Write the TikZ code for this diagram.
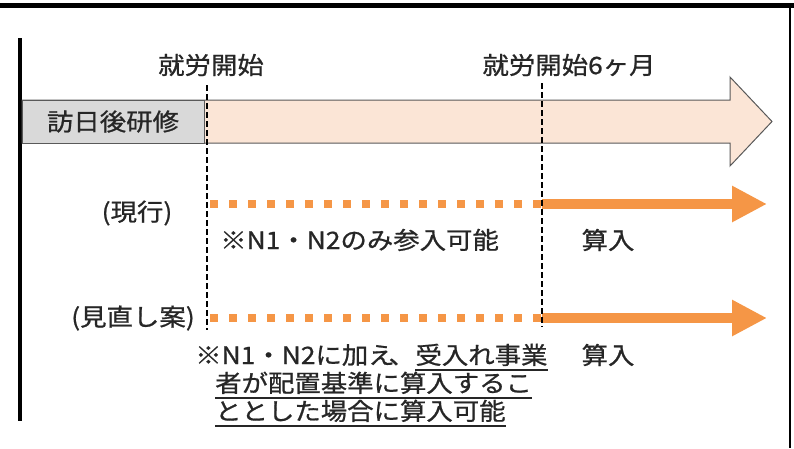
\documentclass[tikz,border=0pt]{standalone}
\usepackage{fontspec}
\setmainfont{Noto Sans CJK JP}[FakeStretch=1.1, FakeBold=0.8]
\usetikzlibrary{arrows.meta}

\definecolor{peach}{RGB}{251,229,214}
\definecolor{boxgray}{RGB}{217,217,217}
\definecolor{orangeline}{RGB}{245,150,70}
\definecolor{inkgray}{RGB}{38,38,38}

\tikzset{
  jtext/.style={font=\fontsize{24}{28}\selectfont, text=inkgray, inner sep=0pt},
  timemark/.style={line width=2.5pt, dash pattern=on 6pt off 3pt},
  planned/.style={orangeline, line width=8pt, dash pattern=on 8pt off 11pt},
  counted/.style={orangeline, line width=10pt, -{Triangle[length=35pt,width=34pt]}},
  bigarrow/.style={draw=black!65, line width=1pt, fill=peach},
  trainbox/.style={draw=black!65, line width=1pt, fill=boxgray, minimum width=182pt, minimum height=43pt, inner sep=0pt},
  underline/.style={draw=inkgray, line width=1.3pt}
}

\begin{document}
\begin{tikzpicture}[x=1pt, y=-1pt]
    \useasboundingbox (0,0) rectangle (794,448);

    \draw[line width=5pt] (0,5) -- (794,5);
    \draw[line width=2.5pt] (790,5) -- (790,448);
    \draw[line width=4pt] (20,38) -- (20,421);

    \draw[bigarrow] (22,100) -- (730,100) -- (730,77) -- (772,121.5) -- (730,166) -- (730,143) -- (22,143) -- cycle;
    \node[trainbox, jtext] (train) at (113,121.5) {訪日後研修};

    \node[jtext] (start) at (211,65) {就労開始};
    \node[jtext] (sixmonth) at (569,65) {就労開始6ヶ月};

    \coordinate (start top) at (207,85);
    \coordinate (start bottom) at (207,330);
    \coordinate (six top) at (542,83);
    \coordinate (six bottom) at (542,327);

    % current rule
    \node[jtext] (current) at (137,213) {(現行)};
    \draw[planned] (210,204) -- (542,204);
    \draw[counted] (542,204) -- (767,204);
    \node[jtext, anchor=base west] (note1) at (220,249) {※N1・N2のみ参入可能};
    \node[jtext] (count1) at (608,240) {算入};

    % revised rule
    \node[jtext] (revised) at (133,318) {(見直し案)};
    \draw[planned] (210,318) -- (542,318);
    \draw[counted] (542,318) -- (767,318);
    \node[jtext, anchor=base west] (note2a) at (195,364) {※N1・N2に加え\kern-6pt 、};
    \node[jtext, anchor=base west] (note2b) at (note2a.base east) {受入れ事業};
    \node[jtext, anchor=base west] (note2c) at (215,392) {者が配置基準に算入するこ};
    \node[jtext, anchor=base west] (note2d) at (215,420) {ととした場合に算入可能};
    \foreach \n in {note2b, note2c, note2d}
        \draw[underline] ([yshift=-6pt]\n.base west) -- ([yshift=-6pt]\n.base east);
    \node[jtext] (count2) at (608,355) {算入};

    \draw[timemark] (start top) -- (start bottom);
    \draw[timemark] (six top) -- (six bottom);
\end{tikzpicture}
\end{document}
